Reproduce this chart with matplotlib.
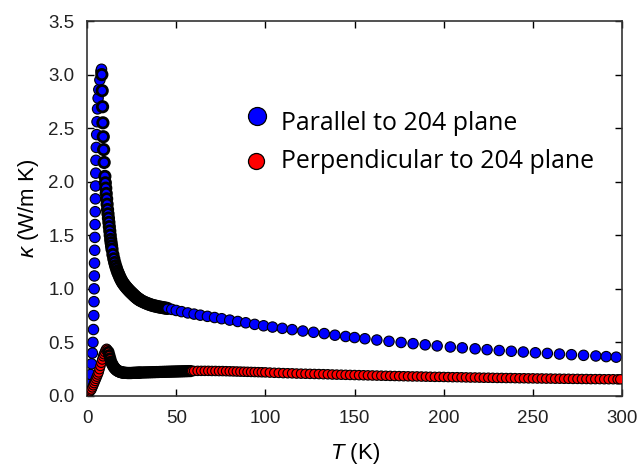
import matplotlib
matplotlib.use("Agg")
import matplotlib.pyplot as plt

# thermal conductivity, parallel to 204 plane (blue)
T_par = [1.5, 2.0, 2.5, 3.0, 3.3, 3.6, 3.8, 3.9, 4.0, 4.1, 4.2, 4.3, 4.4, 4.5, 4.6,
         4.7, 4.8, 4.9, 5.0, 5.2, 5.4, 5.6, 5.9, 6.2, 6.6, 7.2, 7.8, 8.1,
         8.3, 8.5, 8.7, 8.9, 9.1, 9.3, 9.6,
         10.0, 10.25, 10.5, 10.75, 11.0, 11.25, 11.5, 11.75, 12.0, 12.25, 12.5, 12.75,
         13.0, 13.25, 13.5, 13.75, 14.0, 14.5, 15.0, 15.5, 16.0, 16.5, 17.0, 17.5,
         18.0, 18.5, 19.0, 19.5, 20.0, 20.5, 21.0, 21.5, 22.0, 22.5, 23.0, 23.5,
         24.0, 24.5, 25.0, 25.5, 26.0, 26.5, 27.0, 27.5, 28.0, 28.5, 29.0, 29.5,
         30.0, 31.0, 32.0, 33.0, 34.0, 35.0, 36.0, 37.0, 38.0, 39.0, 40.0, 41.0,
         42.0, 43.0, 44.0, 45.0,
         47.5, 50.0, 53.0, 56.5, 60.0, 63.5, 67.5, 71.5, 75.5, 80.0, 84.5, 89.0,
         94.0, 99.0, 104.0, 109.5, 115.0, 121.0, 127.0, 133.0, 139.0, 145.0, 150.0,
         155.8, 162.5, 169.3, 176.1, 182.8, 189.6, 196.3, 203.7, 210.4, 217.6, 224.3,
         231.1, 237.9, 244.6, 251.4, 258.1, 264.9, 271.6, 278.4, 285.3, 291.1, 296.7]
k_par = [0.12, 0.20, 0.30, 0.40, 0.50, 0.62, 0.75, 0.88, 1.00, 1.12, 1.24, 1.36, 1.48, 1.60, 1.72,
         1.84, 1.96, 2.08, 2.20, 2.32, 2.44, 2.56, 2.68, 2.78, 2.86, 2.95, 3.03, 3.05,
         3.00, 2.85, 2.70, 2.55, 2.42, 2.30, 2.18,
         2.05, 1.99, 1.94, 1.89, 1.84, 1.79, 1.74, 1.70, 1.66, 1.62, 1.58, 1.54,
         1.50, 1.46, 1.43, 1.40, 1.37, 1.32, 1.28, 1.245, 1.215, 1.19, 1.165, 1.145,
         1.125, 1.105, 1.088, 1.072, 1.058, 1.046, 1.035, 1.024, 1.014, 1.004, 0.995, 0.986,
         0.977, 0.969, 0.961, 0.953, 0.945, 0.937, 0.929, 0.922, 0.915, 0.909, 0.903, 0.897,
         0.892, 0.883, 0.875, 0.868, 0.861, 0.855, 0.849, 0.844, 0.840, 0.836, 0.832, 0.829,
         0.826, 0.823, 0.820, 0.817,
         0.808, 0.798, 0.787, 0.775, 0.764, 0.754, 0.743, 0.732, 0.721, 0.708, 0.695, 0.683,
         0.668, 0.655, 0.643, 0.631, 0.619, 0.606, 0.594, 0.582, 0.567, 0.555, 0.545,
         0.534, 0.522, 0.510, 0.499, 0.488, 0.477, 0.467, 0.457, 0.449, 0.440, 0.432,
         0.424, 0.417, 0.410, 0.403, 0.397, 0.391, 0.385, 0.379, 0.373, 0.367, 0.362]

# thermal conductivity, perpendicular to 204 plane (red)
T_perp = [1.0, 1.5, 2.0, 2.5, 3.0, 3.5, 4.0, 4.5, 5.0, 5.5, 6.0, 6.5, 7.0, 7.5, 8.0, 8.5,
          9.0, 9.5, 10.0, 10.5, 11.0, 11.5,
          12.0, 12.5, 13.0, 13.5, 14.0, 14.5, 15.0, 15.5, 16.0, 16.5, 17.0, 17.5,
          18.0, 18.5, 19.0, 19.5, 20.0, 20.5, 21.0, 21.5, 22.0, 22.5, 23.0, 23.5,
          24.0, 24.5, 25.0, 25.5, 26.0, 26.5, 27.0, 27.5, 28.0, 28.5, 29.0, 29.5, 30.0,
          31, 32, 33, 34, 35, 36, 37, 38, 39, 40, 41, 42, 43, 44, 45,
          46, 47, 48, 49, 50, 51, 52, 53, 54, 55, 56, 57, 58, 59, 60,
          62, 64, 66, 68, 70, 72, 74, 76, 78, 80, 82, 84, 86, 88, 90, 92, 94, 96, 98, 100,
          102.5, 105.0, 107.5, 110.0, 112.5, 115.0, 117.5, 120.0, 122.5, 125.0,
          127.5, 130.0, 132.5, 135.0, 137.5, 140.0, 142.5, 145.0, 147.5, 150.0,
          152.5, 155.0, 157.5, 160.0, 162.5, 165.0, 167.5, 170.0, 172.5, 175.0,
          177.5, 180.0, 182.5, 185.0, 187.5, 190.0, 192.5, 195.0, 197.5, 200.0,
          202.5, 205.0, 207.5, 210.0, 212.5, 215.0, 217.5, 220.0, 222.5, 225.0,
          227.5, 230.0, 232.5, 235.0, 237.5, 240.0, 242.5, 245.0, 247.5, 250.0,
          252.5, 255.0, 257.5, 260.0, 262.5, 265.0, 267.5, 270.0, 272.5, 275.0,
          277.5, 280.0, 282.5, 285.0, 287.5, 290.0, 292.5, 295.0, 297.5, 299.0]
k_perp = [0.04, 0.04, 0.05, 0.06, 0.08, 0.10, 0.12, 0.14, 0.16, 0.18, 0.20, 0.22, 0.25, 0.28, 0.31, 0.34,
          0.37, 0.39, 0.41, 0.43, 0.44, 0.43,
          0.41, 0.38, 0.35, 0.32, 0.30, 0.285, 0.27, 0.26, 0.25, 0.243, 0.237, 0.232,
          0.228, 0.225, 0.222, 0.220, 0.218, 0.217, 0.216, 0.215, 0.215, 0.214, 0.214, 0.214,
          0.214, 0.214, 0.214, 0.215, 0.215, 0.215, 0.216, 0.216, 0.216, 0.217, 0.217, 0.218, 0.218,
          0.219, 0.219, 0.220, 0.220, 0.221, 0.221, 0.222, 0.222, 0.223, 0.223, 0.224, 0.224, 0.225, 0.225, 0.226,
          0.226, 0.227, 0.227, 0.228, 0.228, 0.229, 0.229, 0.230, 0.230, 0.231, 0.231, 0.232, 0.232, 0.233, 0.233,
          0.234, 0.234, 0.234, 0.234, 0.233, 0.233, 0.232, 0.232, 0.231, 0.230, 0.229, 0.228,
          0.227, 0.226, 0.225, 0.224, 0.223, 0.222, 0.221, 0.220,
          0.218, 0.216, 0.215, 0.213, 0.212, 0.211, 0.209, 0.208, 0.207, 0.206,
          0.205, 0.204, 0.203, 0.202, 0.200, 0.199, 0.198, 0.197, 0.196, 0.195,
          0.194, 0.193, 0.192, 0.191, 0.190, 0.189, 0.188, 0.187, 0.186, 0.185,
          0.184, 0.183, 0.182, 0.182, 0.181, 0.180, 0.179, 0.178, 0.178, 0.177,
          0.176, 0.175, 0.175, 0.174, 0.173, 0.172, 0.172, 0.171, 0.170, 0.170,
          0.169, 0.168, 0.168, 0.167, 0.167, 0.166, 0.165, 0.165, 0.164, 0.164,
          0.163, 0.163, 0.162, 0.162, 0.161, 0.161, 0.160, 0.160, 0.159, 0.159,
          0.158, 0.158, 0.157, 0.157, 0.157, 0.156, 0.156, 0.156, 0.155, 0.155]

labels = ["Parallel to 204 plane", "Perpendicular to 204 plane"]
colors = ["#0000ff", "#ff0000"]

plt.rcParams["font.family"] = ["Liberation Sans", "DejaVu Sans"]
plt.rcParams["mathtext.fontset"] = "custom"
plt.rcParams["mathtext.rm"] = "Liberation Sans"
plt.rcParams["mathtext.it"] = "Liberation Sans:italic"

fig = plt.figure(figsize=(6.4, 4.68), dpi=100)
ax = fig.add_axes([0.136, 0.154, 0.836, 0.801])

# the densely sampled low-T stretches look black in the original
lw_par = [2.0 if 8.2 <= t <= 45 else 0.8 for t in T_par]
lw_perp = [2.0 if 12 <= t <= 58 else 0.8 for t in T_perp]

ax.scatter(T_par, k_par, s=56, c=colors[0], edgecolors="black", linewidths=lw_par, zorder=2)
ax.scatter(T_perp, k_perp, s=46, c=colors[1], edgecolors="black", linewidths=lw_perp, zorder=3)

ax.set_xlim(0, 300)
ax.set_ylim(0, 3.5)
ax.set_xticks(range(0, 301, 50))
ax.set_yticks([0.0, 0.5, 1.0, 1.5, 2.0, 2.5, 3.0, 3.5])
ax.set_yticklabels(["0.0", "0.5", "1.0", "1.5", "2.0", "2.5", "3.0", "3.5"])
ax.tick_params(direction="in", length=5, width=1, top=True, right=True,
               labelsize=13.5, labelcolor="#222222")
ax.tick_params(axis="y", pad=9)
ax.tick_params(axis="x", pad=10)
for sp in ax.spines.values():
    sp.set_linewidth(1.2)
    sp.set_color("#333333")

ax.set_xlabel("$T$ (K)", fontsize=16, labelpad=10)
ax.set_ylabel("$\\kappa$ (W/m K)", fontsize=16, labelpad=5)

# legend drawn by hand: the two keys sit a little off the text lines in the original
key_pos = [(0.317, 0.748), (0.316, 0.628)]
key_size = [168, 133]
text_pos = [(0.3626, 0.709), (0.3626, 0.608)]
for i in range(2):
    ax.scatter([key_pos[i][0]], [key_pos[i][1]], s=key_size[i], c=colors[i],
               edgecolors="black", linewidths=0.9, transform=ax.transAxes,
               clip_on=False, zorder=4)
    ax.text(text_pos[i][0], text_pos[i][1], labels[i], transform=ax.transAxes,
            ha="left", va="baseline", fontsize=17.9, family="Open Sans", color="black")

fig.savefig("out.png", dpi=100)
